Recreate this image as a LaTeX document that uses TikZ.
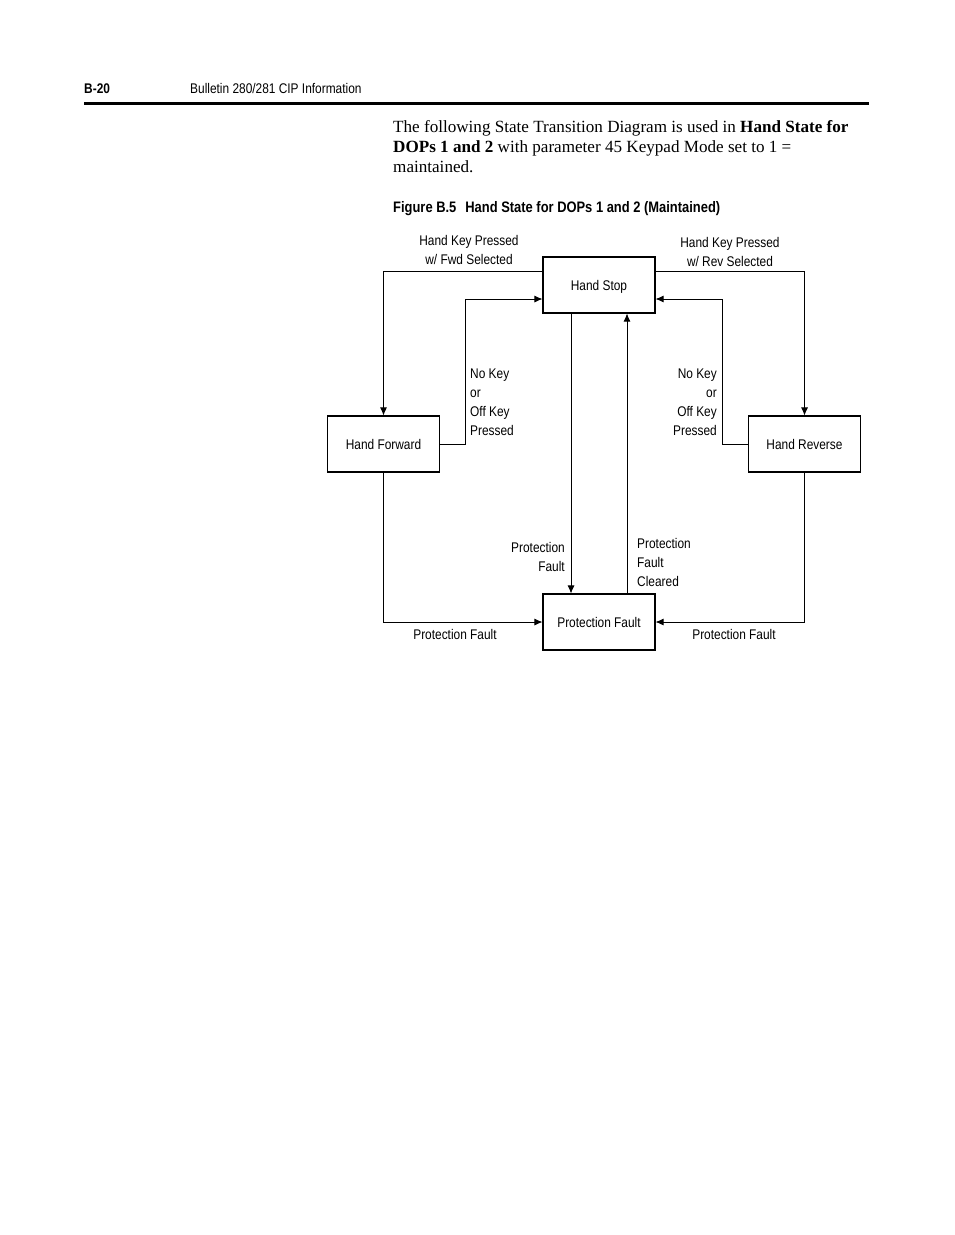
\documentclass[tikz,border=0pt]{standalone}
\usepackage{fontspec}
\setmainfont{Liberation Serif}
\newfontfamily\condsf[FakeStretch=0.85]{Liberation Sans}
\usetikzlibrary{arrows.meta}
\tikzset{
  state/.style={draw,line width=1.1pt,minimum width=112pt,minimum height=56pt,inner sep=0pt,text height=11pt,text depth=1pt,font=\condsf\fontsize{14}{19}\selectfont},
  lbl/.style={inner sep=0pt,font=\condsf\fontsize{14}{19}\selectfont},
  arr/.style={-{Latex[length=8pt,width=7pt]},line width=0.8pt}
}

\begin{document}
\begin{tikzpicture}[x=1pt,y=-1pt]
    \useasboundingbox (0,0) rectangle (954,1235);

    % page head
    \node [anchor=base west,inner sep=0pt,font=\condsf\bfseries\fontsize{14}{16}\selectfont] (page) at (84,93) {B-20};
    \node [anchor=base west,inner sep=0pt,font=\condsf\fontsize{14}{16}\selectfont] (title) at (190,93) {Bulletin 280/281 CIP Information};
    \draw [line width=3pt] (84,103) -- (869,103);

    \node [anchor=north west,align=left,inner sep=0pt,font=\fontsize{17.1}{20}\selectfont] (intro) at (393,120)
      {The following State Transition Diagram is used in \textbf{Hand State for}\\
       \textbf{DOPs 1 and 2} with parameter 45 Keypad Mode set to 1 =\\
       maintained.};
    \node [anchor=base west,inner sep=0pt,font=\condsf\bfseries\fontsize{15.2}{17}\selectfont] (caption) at (393,212)
      {Figure B.5\hspace{9pt}Hand State for DOPs 1 and 2 (Maintained)};

    % states
    \node [state] (stop) at (599,285) {Hand Stop};
    \node [state] (fwd) at (383.5,444) {Hand Forward};
    \node [state] (rev) at (804.5,444) {Hand Reverse};
    \node [state] (fault) at (599,622) {Protection Fault};

    % transitions
    \draw [arr] ([yshift=14pt]stop.west) -| (fwd.north);
    \draw [arr] (fwd.east) -- ++(25,0) |- ([yshift=-14pt]stop.west);
    \draw [arr] ([yshift=14pt]stop.east) -| (rev.north);
    \draw [arr] (rev.west) -- ++(-26,0) |- ([yshift=-14pt]stop.east);
    \draw [arr] ([xshift=-28pt]stop.south) -- ([xshift=-28pt]fault.north);
    \draw [arr] ([xshift=28pt]fault.north) -- ([xshift=28pt]stop.south);
    \draw [arr] (fwd.south) |- (fault.west);
    \draw [arr] (rev.south) |- (fault.east);

    % labels
    \node [lbl,align=center] (fwdkey) at (469,250) {Hand Key Pressed\\w/ Fwd Selected};
    \node [lbl,align=center] (revkey) at (730,252) {Hand Key Pressed\\w/ Rev Selected};
    \node [lbl,align=left,anchor=west] (fwdoff) at (470,402) {No Key\\or\\Off Key\\Pressed};
    \node [lbl,align=right,anchor=east] (revoff) at (717,402) {No Key\\or\\Off Key\\Pressed};
    \node [lbl,align=right,anchor=east] (pfault) at (565,557) {Protection\\Fault};
    \node [lbl,align=left,anchor=west] (cleared) at (637,562) {Protection\\Fault\\Cleared};
    \node [lbl] (fwdpf) at (455,634) {Protection Fault};
    \node [lbl] (revpf) at (734,634) {Protection Fault};
\end{tikzpicture}
\end{document}
